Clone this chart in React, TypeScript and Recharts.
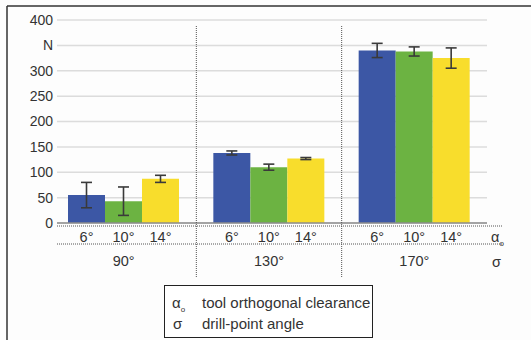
import React from "react";
import {
  BarChart,
  Bar,
  XAxis,
  YAxis,
  CartesianGrid,
  ErrorBar,
  LabelList,
} from "recharts";

// drill-point angle groups and tool orthogonal clearance series
const sigmaAngles = ["90°", "130°", "170°"];
const clearanceAngles = ["6°", "10°", "14°"];

// thrust force in N, with +/- spread
const force6 = [55, 138, 340];
const spread6 = [25, 4, 14];
const force10 = [43, 110, 338];
const spread10 = [28, 6, 9];
const force14 = [87, 127, 325];
const spread14 = [7, 2, 20];

const yTicks = [0, 50, 100, 150, 200, 250, 300, 350, 400];

const data = sigmaAngles.map((s, i) => ({
  sigma: s,
  f6: force6[i],
  e6: spread6[i],
  f10: force10[i],
  e10: spread10[i],
  f14: force14[i],
  e14: spread14[i],
}));

const W = 531;
const H = 340;
const M = { top: 20, right: 44, bottom: 67, left: 0 };
const Y_W = 57;
const X_H = 50;
const BAND_PAD = -6;
const plotLeft = M.left + Y_W;
const plotRight = W - M.right;
const plotBottom = H - M.bottom - X_H;
const bandStart = plotLeft + BAND_PAD;
const bandW = (plotRight - bandStart) / sigmaAngles.length;

const FONT = '"Liberation Sans", Arial, Helvetica, sans-serif';
const TXT = "#333";

const series = [
  { key: "f6", err: "e6", color: "#3c57a5" },
  { key: "f10", err: "e10", color: "#6cb342" },
  { key: "f14", err: "e14", color: "#f8dd2c" },
];

function Alpha({ x, y, size = 14 }: { x: number; y: number; size?: number }) {
  return (
    <text x={x} y={y} fontSize={size} fill={TXT} textAnchor="start">
      α
      <tspan fontSize={8} dy={4}>
        o
      </tspan>
    </text>
  );
}

export default function App() {
  const seps = [1, 2].map((i) => bandStart + bandW * i);
  return (
    <div
      style={{
        position: "absolute",
        left: 0,
        top: 0,
        width: W,
        height: H,
        background: "#fdfdfd",
        fontFamily: FONT,
      }}
    >
      <BarChart
        width={W}
        height={H}
        data={data}
        margin={M}
        barGap={0}
        barSize={37}
      >
        <CartesianGrid vertical={false} stroke="#dcdcdc" strokeWidth={1.5} />
        <YAxis
          width={Y_W}
          domain={[0, 400]}
          ticks={yTicks}
          interval={0}
          axisLine={false}
          tickLine={false}
          tickSize={0}
          tickMargin={4}
          tick={{ fill: TXT, fontSize: 14, fontFamily: FONT }}
          tickFormatter={(v: number) => (v === 350 ? "N" : String(v))}
        />
        <XAxis
          dataKey="sigma"
          height={X_H}
          padding={{ left: BAND_PAD, right: 0 }}
          axisLine={{ stroke: "#8c8c8c", strokeWidth: 1.5 }}
          tickLine={false}
          tickSize={0}
          tickMargin={33}
          tick={{ fill: TXT, fontSize: 14.5, fontFamily: FONT }}
        />
        {series.map((s, i) => (
          <Bar key={s.key} dataKey={s.key} fill={s.color} isAnimationActive={false}>
            <ErrorBar
              dataKey={s.err}
              width={5.5}
              stroke="#3a3a3a"
              strokeWidth={1.6}
              direction="y"
            />
            <LabelList
              dataKey={s.key}
              content={(p: any) => (
                <text
                  x={Number(p.x) + Number(p.width) / 2}
                  y={Number(p.y) + Number(p.height) + 19}
                  textAnchor="middle"
                  fontSize={14.5}
                  fill={TXT}
                  fontFamily={FONT}
                >
                  {clearanceAngles[i]}
                </text>
              )}
            />
          </Bar>
        ))}
      </BarChart>
      <svg
        width={W}
        height={H}
        style={{ position: "absolute", left: 0, top: 0, pointerEvents: "none" }}
        fontFamily={FONT}
      >
        {/* outer frame */}
        <line x1={7} y1={6} x2={W} y2={6} stroke="#333" strokeWidth={1.5} />
        <line x1={7} y1={6} x2={7} y2={H} stroke="#333" strokeWidth={1.5} />
        {/* dotted rows under the axis */}
        <line x1={plotLeft} y1={plotBottom + 3} x2={503} y2={plotBottom + 3} stroke="#555" strokeDasharray="1 1" />
        <line x1={plotLeft} y1={plotBottom + 21} x2={503} y2={plotBottom + 21} stroke="#555" strokeDasharray="1 1" />
        {/* group separators */}
        {seps.map((x) => (
          <line key={x} x1={x} y1={26} x2={x} y2={277} stroke="#555" strokeDasharray="1 1" />
        ))}
        <Alpha x={491} y={242} size={14.5} />
        <text x={492} y={267} fontSize={14.5} fill={TXT}>
          σ
        </text>
        {/* key box */}
        <rect x={164.5} y={285.5} width={208} height={52} fill="#fff" stroke="#222" strokeWidth={1} />
        <Alpha x={172} y={308} size={15} />
        <text x={202} y={308} fontSize={15} fill={TXT}>
          tool orthogonal clearance
        </text>
        <text x={173} y={329} fontSize={15} fill={TXT}>
          σ
        </text>
        <text x={202} y={329} fontSize={15} fill={TXT}>
          drill-point angle
        </text>
      </svg>
    </div>
  );
}
